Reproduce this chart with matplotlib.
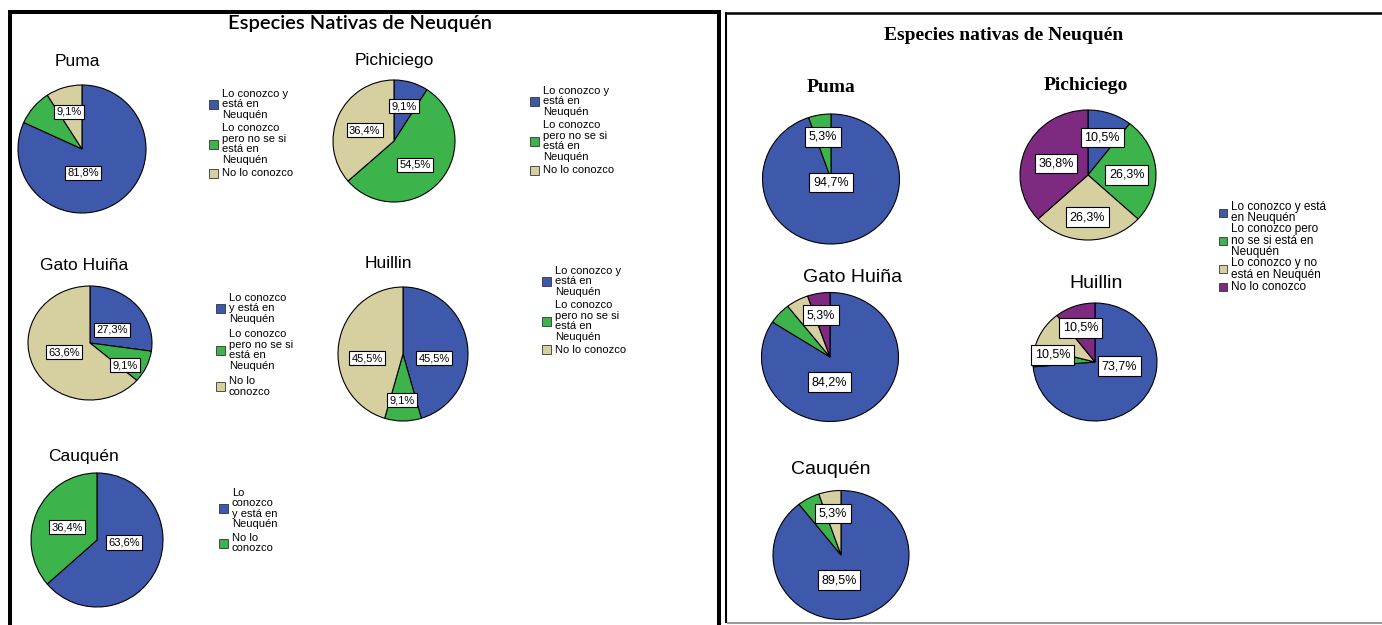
import matplotlib.pyplot as plt
from matplotlib.patches import Rectangle

plt.rcParams['font.family'] = ['Liberation Sans', 'DejaVu Sans']

W, H = 1382, 625

# SPSS-like category colours
BLUE, GREEN, TAN, PURPLE = '#3e58ac', '#3cb44b', '#d6cfa0', '#7e2a80'

species = ['Puma', 'Pichiciego', 'Gato Huiña', 'Huillin', 'Cauquén']

# first survey (%)
puma_1 = [81.8, 9.1, 9.1]
pichiciego_1 = [9.1, 54.5, 36.4]
gato_1 = [27.3, 9.1, 63.6]
huillin_1 = [45.5, 9.1, 45.5]
cauquen_1 = [63.6, 36.4]

# second survey (%)
puma_2 = [94.7, 5.3]
pichiciego_2 = [10.5, 26.3, 26.3, 36.8]
gato_2 = [84.2, 5.3, 5.3, 5.3]
huillin_2 = [73.7, 5.3, 10.5, 10.5]
cauquen_2 = [89.5, 5.3, 5.3]

legend_a = ['Lo conozco y\nestá en\nNeuquén', 'Lo conozco\npero no se si\nestá en\nNeuquén', 'No lo conozco']
legend_gato = ['Lo conozco\ny está en\nNeuquén', 'Lo conozco\npero no se si\nestá en\nNeuquén', 'No lo\nconozco']
legend_cauquen = ['Lo\nconozco\ny está en\nNeuquén', 'No lo\nconozco']
legend_b = ['Lo conozco y está\nen Neuquén', 'Lo conozco pero\nno se si está en\nNeuquén',
            'Lo conozco y no\nestá en Neuquén', 'No lo conozco']

fig = plt.figure(figsize=(W / 100, H / 100), dpi=100)
bg = fig.add_axes([0, 0, 1, 1])
bg.set_xlim(0, W)
bg.set_ylim(H, 0)
bg.axis('off')


def pct(v):
    return f'{v:.1f}%'.replace('.', ',')


def draw_pie(values, colors, cx, cy, rx, ry, offsets, fs, pad):
    m = 1.03
    ax = fig.add_axes([(cx - rx * m) / W, 1 - (cy + ry * m) / H, 2 * rx * m / W, 2 * ry * m / H])
    ax.pie(values, colors=colors, startangle=90, counterclock=False,
           wedgeprops=dict(edgecolor='black', linewidth=0.8))
    ax.set_aspect('auto')
    ax.set_xlim(-m, m)
    ax.set_ylim(-m, m)
    ax.axis('off')
    for v, off in zip(values, offsets):
        if off is None:
            continue
        ax.text(off[0], off[1], pct(v), fontsize=fs, ha='center', va='center',
                bbox=dict(boxstyle=f'square,pad={pad}', fc='white', ec='black', lw=0.8))


def draw_legend(x, top, texts, colors, fs, pitch, gap, sq, ls):
    y = top
    for t, c in zip(texts, colors):
        h = (t.count('\n') + 1) * pitch
        yc = y + h / 2
        bg.add_patch(Rectangle((x, yc - sq / 2), sq, sq, fc=c, ec='#333333', lw=0.6))
        bg.text(x + sq + 4, yc, t, fontsize=fs, ha='left', va='center', linespacing=ls)
        y += h + gap


# frames
bg.plot([10, 10], [10, 625], color='black', lw=2.9, solid_capstyle='butt')
bg.plot([8, 721], [11.5, 11.5], color='black', lw=2.9, solid_capstyle='butt')
bg.plot([719, 719], [10, 625], color='black', lw=2.9, solid_capstyle='butt')
bg.plot([726, 726], [12, 623], color='black', lw=1.5, solid_capstyle='butt')
bg.plot([725, 1382], [12.5, 12.5], color='black', lw=1.8, solid_capstyle='butt')
bg.plot([727, 1382], [623, 623], color='#9a9a9a', lw=1.5, solid_capstyle='butt')

# ---- first survey ----
c3 = [BLUE, GREEN, TAN]
bg.text(360, 23, 'Especies Nativas de Neuquén', fontsize=14.5, fontweight='semibold',
        ha='center', va='center', family=['Lato', 'DejaVu Sans'])
for name, (x, y) in zip(species, [(77, 62), (394, 60), (84, 265), (388, 263), (84, 457)]):
    bg.text(x, y, name, fontsize=12.5, ha='center', va='center')

draw_pie(puma_1, c3, 82, 149, 64, 64, [(0.02, -0.375), None, (-0.2, 0.58)], 8, 0.2)
draw_pie(pichiciego_1, c3, 394, 141, 61, 61, [(0.16, 0.57), (0.34, -0.39), (-0.48, 0.18)], 8, 0.2)
draw_pie(gato_1, c3, 90, 343, 62, 57, [(0.35, 0.23), (0.56, -0.39), (-0.42, -0.16)], 8, 0.2)
draw_pie(huillin_1, c3, 403, 354, 65, 67, [(0.48, -0.06), (-0.02, -0.69), (-0.55, -0.06)], 8, 0.2)
draw_pie(cauquen_1, [BLUE, GREEN], 97, 540, 66, 67, [(0.41, -0.04), (-0.45, 0.19)], 8, 0.2)

draw_legend(209, 88, legend_a, c3, 8, 10.8, 2, 9, 1.05)
draw_legend(530, 85, legend_a, c3, 8, 10.8, 2, 9, 1.05)
draw_legend(216, 292, legend_gato, c3, 8, 10.8, 4, 9, 1.05)
draw_legend(542, 265, legend_a, c3, 8, 10.8, 2, 9, 1.05)
draw_legend(219, 487, legend_cauquen, [BLUE, GREEN], 8, 10.8, 2, 9, 1.05)

# ---- second survey ----
c4 = [BLUE, GREEN, TAN, PURPLE]
serif = ['Liberation Serif', 'DejaVu Serif']
bg.text(1004, 36, 'Especies nativas de Neuquén', fontsize=14, fontweight='bold',
        ha='center', va='center', family=serif)
bg.text(831, 87, species[0], fontsize=14, fontweight='bold', ha='center', va='center', family=serif)
bg.text(1086, 85, species[1], fontsize=14, fontweight='bold', ha='center', va='center', family=serif)
for name, (x, y) in zip(species[2:], [(853, 277), (1096, 283), (831, 469)]):
    bg.text(x, y, name, fontsize=14, ha='center', va='center')

draw_pie(puma_2, [BLUE, GREEN], 831, 179, 68.5, 65, [(0, -0.05), (-0.12, 0.65)], 9, 0.3)
draw_pie(pichiciego_2, c4, 1088, 175, 68, 65,
         [(0.21, 0.58), (0.57, 0), (-0.01, -0.65), (-0.47, 0.18)], 9, 0.3)
draw_pie(gato_2, c4, 830, 357, 68.5, 64.5, [(-0.01, -0.39), None, None, (-0.13, 0.65)], 9, 0.3)
draw_pie(huillin_2, c4, 1095, 362, 62, 59, [(0.39, -0.07), None, (-0.68, 0.12), (-0.23, 0.58)], 9, 0.3)
draw_pie(cauquen_2, c3, 841, 555, 68, 64.5, [(-0.03, -0.39), None, (-0.12, 0.64)], 9, 0.3)

draw_legend(1219, 202, legend_b, c4, 8.5, 10.5, 2, 8, 0.95)

fig.savefig('out.png', dpi=100)
